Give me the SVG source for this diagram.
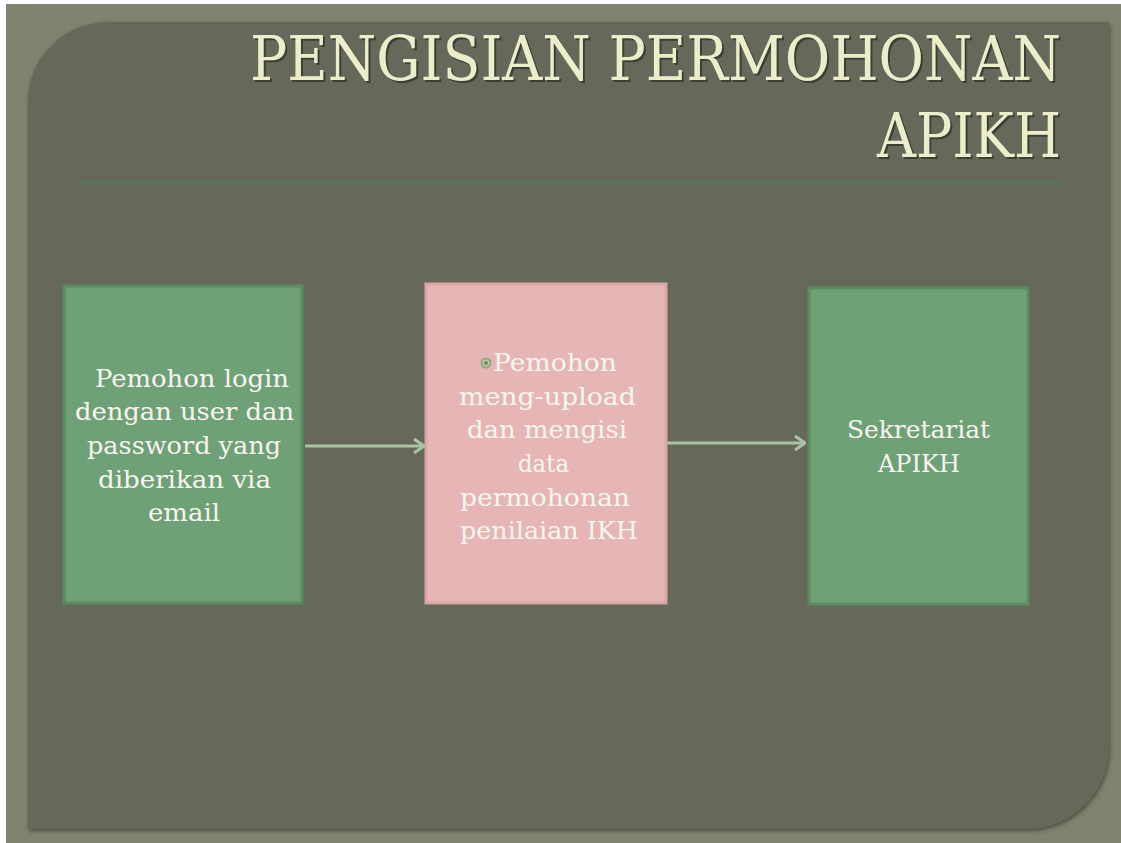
<svg xmlns="http://www.w3.org/2000/svg" width="1121" height="843" viewBox="0 0 1121 843">
<defs>
<style>
.title{font-family:"DejaVu Serif","Liberation Serif",serif;font-size:62px;fill:#ecedcb;}
.tshadow{font-family:"DejaVu Serif","Liberation Serif",serif;font-size:62px;fill:#34352c;opacity:0.8;}
.lbl{font-family:"DejaVu Serif","Liberation Serif",serif;font-size:24px;fill:#f7f5ef;}
.green{fill:#6fa176;stroke:#5b8c61;stroke-width:3;}
.pink{fill:#e6b6b6;stroke:#d9a6a6;stroke-width:3;}
.conn{stroke:#a8c4a4;stroke-width:3;fill:none;}
</style>
<marker id="arr" viewBox="0 0 12 16" refX="11" refY="8" markerWidth="12" markerHeight="16" markerUnits="userSpaceOnUse" orient="auto">
<path d="M1,1 L11,8 L1,15" fill="none" stroke="#a8c4a4" stroke-width="3"/>
</marker>
<filter id="sh" x="-5%" y="-5%" width="110%" height="110%">
<feDropShadow dx="1" dy="2" stdDeviation="2" flood-color="#3e3f34" flood-opacity="0.8"/>
</filter>
</defs>
<rect x="0" y="0" width="1121" height="843" fill="#ffffff"/>
<rect x="6" y="4" width="1115" height="839" fill="#80836f"/>
<path d="M108,22 L1109,22 L1109,747 A82,82 0 0 1 1027,829 L28,829 L28,102 A80,80 0 0 1 108,22 Z" fill="#66675a" filter="url(#sh)"/>
<g id="title">
<text class="tshadow" x="252" y="82" textLength="811" lengthAdjust="spacingAndGlyphs">PENGISIAN PERMOHONAN</text>
<text class="title" x="250" y="80" textLength="811" lengthAdjust="spacingAndGlyphs">PENGISIAN PERMOHONAN</text>
<text class="tshadow" x="879" y="159" textLength="184" lengthAdjust="spacingAndGlyphs">APIKH</text>
<text class="title" x="877" y="157" textLength="184" lengthAdjust="spacingAndGlyphs">APIKH</text>
</g>
<line x1="78" y1="183" x2="1062" y2="183" stroke="#4f7a57" stroke-width="2"/>
<g id="connectors">
<line class="conn" x1="305" y1="446" x2="424" y2="446" marker-end="url(#arr)"/>
<line class="conn" x1="667" y1="443" x2="805" y2="443" marker-end="url(#arr)"/>
</g>
<g id="node1">
<rect class="green" x="64" y="286" width="238" height="317"/>
<text class="lbl" x="95" y="387" textLength="194" lengthAdjust="spacingAndGlyphs">Pemohon login</text>
<text class="lbl" x="75" y="420" textLength="219" lengthAdjust="spacingAndGlyphs">dengan user dan</text>
<text class="lbl" x="87" y="454" textLength="194" lengthAdjust="spacingAndGlyphs">password yang</text>
<text class="lbl" x="98" y="488" textLength="173" lengthAdjust="spacingAndGlyphs">diberikan via</text>
<text class="lbl" x="148" y="521" textLength="72" lengthAdjust="spacingAndGlyphs">email</text>
</g>
<g id="node2">
<rect class="pink" x="426" y="284" width="240" height="319"/>
<circle cx="486" cy="363" r="4.5" fill="none" stroke="#7fb07f" stroke-width="2"/>
<circle cx="486" cy="363" r="2" fill="#4c9a55"/>
<text class="lbl" x="493" y="371" textLength="124" lengthAdjust="spacingAndGlyphs">Pemohon</text>
<text class="lbl" x="459" y="405" textLength="177" lengthAdjust="spacingAndGlyphs">meng-upload</text>
<text class="lbl" x="467" y="438" textLength="160" lengthAdjust="spacingAndGlyphs">dan mengisi</text>
<text class="lbl" x="518" y="472" textLength="51" lengthAdjust="spacingAndGlyphs">data</text>
<text class="lbl" x="460" y="506" textLength="170" lengthAdjust="spacingAndGlyphs">permohonan</text>
<text class="lbl" x="460" y="539" textLength="178" lengthAdjust="spacingAndGlyphs">penilaian IKH</text>
</g>
<g id="node3">
<rect class="green" x="809" y="288" width="219" height="316"/>
<text class="lbl" x="847" y="438" textLength="143" lengthAdjust="spacingAndGlyphs">Sekretariat</text>
<text class="lbl" x="878" y="472" textLength="82" lengthAdjust="spacingAndGlyphs">APIKH</text>
</g>
</svg>
